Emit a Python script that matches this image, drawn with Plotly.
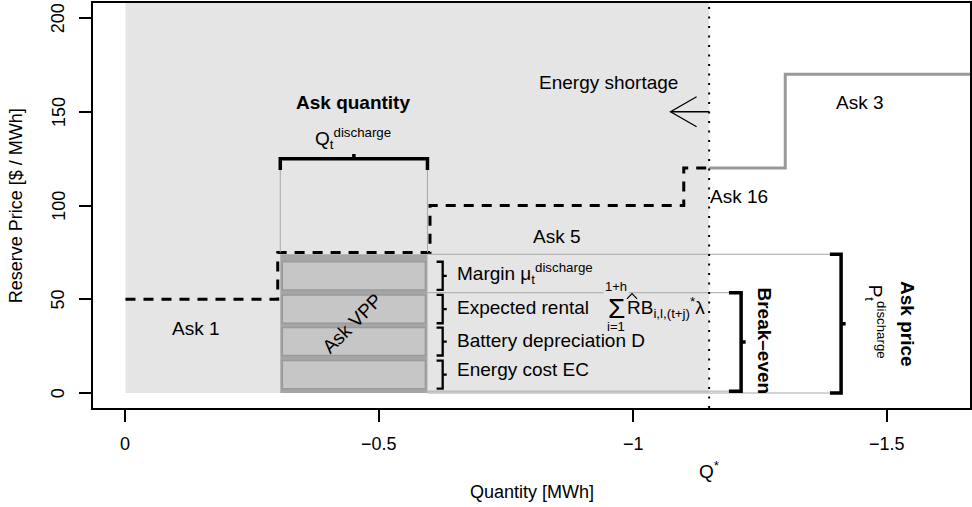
import plotly.graph_objects as go

# ---------------- data ----------------
q_star = -1.15
ask_steps_x = [0, -0.3, -0.6, -1.1, -1.15]
ask_steps_y = [50, 75, 100, 120, 120]
market_x = [-1.15, -1.3, -1.7]
market_y = [120, 170, 170]
vpp_q = [-0.305, -0.595]
vpp_price = 74
cost_labels = ["Energy cost EC", "Battery depreciation D", "Expected rental",
               "Margin μ<sub>t</sub><sup>discharge</sup>"]
cost_low = [2.3, 20, 37.2, 55]
cost_high = [17.3, 34.9, 52.3, 70]
cost_label_y = [12.4, 27.8, 45.5, 63.8]
break_even = [1, 53.5]
ask_price = [0, 74]
ask_labels = ["Ask 1", "Ask 5", "Ask 16", "Ask 3"]
ask_label_x = [-0.139, -0.85, -1.209, -1.448]
ask_label_y = [34.2, 83.7, 104.6, 154.8]
xticks = [0, -0.5, -1, -1.5]
xtick_text = ["0", "−0.5", "−1", "−1.5"]
yticks = [0, 50, 100, 150, 200]
ytick_text = ["0", "50", "100", "150", "200"]
x_range = [0.064, -1.664]
y_range = [-8, 208]

FONT = "Liberation Sans, Arial, Helvetica, sans-serif"
FS = 19

fig = go.Figure()

shapes = []
# shaded feasible region
shapes.append(dict(type="rect", xref="x", yref="y", x0=0, x1=q_star, y0=0, y1=y_range[1],
                   fillcolor="#E5E5E5", line=dict(width=0), layer="below"))
# VPP bar base
shapes.append(dict(type="rect", xref="x", yref="y", x0=vpp_q[0], x1=vpp_q[1], y0=0, y1=vpp_price,
                   fillcolor="#A6A6A6", line=dict(width=0), layer="below"))
for lo, hi in zip(cost_low, cost_high):
    shapes.append(dict(type="rect", xref="x", yref="y", x0=vpp_q[0] - 0.004, x1=vpp_q[1] + 0.004,
                       y0=lo, y1=hi, fillcolor="#C6C6C6",
                       line=dict(color="#9A9A9A", width=1.5), layer="below"))

# thin guide lines
guide = dict(color="#A8A8A8", width=1)
shapes.append(dict(type="line", xref="x", yref="y", x0=vpp_q[1], x1=-1.388, y0=ask_price[1], y1=ask_price[1], line=guide))
shapes.append(dict(type="line", xref="x", yref="y", x0=vpp_q[1], x1=-1.388, y0=ask_price[0], y1=ask_price[0], line=guide))
shapes.append(dict(type="line", xref="x", yref="y", x0=vpp_q[1], x1=-1.189, y0=break_even[1], y1=break_even[1], line=guide))
shapes.append(dict(type="line", xref="x", yref="y", x0=vpp_q[1], x1=-1.189, y0=break_even[0], y1=break_even[0], line=guide))
for xv in vpp_q:
    shapes.append(dict(type="line", xref="x", yref="y", x0=xv, x1=xv, y0=75, y1=119, line=guide))


def vbracket(x, y0, y1, tick, nub, width):
    ym = (y0 + y1) / 2
    path = (f"M {x + tick},{y0} L {x},{y0} L {x},{y1} L {x + tick},{y1} "
            f"M {x},{ym} L {x - nub},{ym}")
    return dict(type="path", xref="x", yref="y", path=path,
                line=dict(color="black", width=width), layer="above")


# small brackets on cost components
for lo, hi in zip(cost_low, cost_high):
    shapes.append(vbracket(-0.625, lo, hi, 0.012, 0.008, 2.3))
# break-even and ask price brackets
shapes.append(vbracket(-1.213, break_even[0], break_even[1], 0.024, 0.009, 3.5))
shapes.append(vbracket(-1.41, ask_price[0], ask_price[1], 0.022, 0.009, 3.5))

# ask quantity bracket (horizontal)
xm = (vpp_q[0] + vpp_q[1]) / 2
shapes.append(dict(type="path", xref="x", yref="y",
                   path=(f"M {vpp_q[0]},119 L {vpp_q[0]},125 L {vpp_q[1]},125 L {vpp_q[1]},119 "
                         f"M {xm},125 L {xm},127.5"),
                   line=dict(color="black", width=3.5), layer="above"))

# Q* dotted line
shapes.append(dict(type="line", xref="x", yref="paper", x0=q_star, x1=q_star, y0=0, y1=1,
                   line=dict(color="black", width=2, dash="2px,7.5px"), layer="above"))

# energy shortage arrow
tip_x = -1.074
shapes.append(dict(type="line", xref="x", yref="y", x0=q_star, x1=tip_x, y0=150, y1=150,
                   line=dict(color="black", width=1.3)))
shapes.append(dict(type="path", xref="x", yref="y",
                   path=f"M {tip_x - 0.0513},158 L {tip_x},150 L {tip_x - 0.0513},142",
                   line=dict(color="black", width=1.3)))

# hat over R
shapes.append(dict(type="path", xref="x", yref="y",
                   path="M -0.988,50.2 L -0.998,53 L -1.008,50.2",
                   line=dict(color="black", width=1.2)))

# step curves
fig.add_trace(go.Scatter(x=ask_steps_x, y=ask_steps_y, mode="lines", line_shape="hv",
                         line=dict(color="black", width=3, dash="10px,8px"),
                         hoverinfo="skip", showlegend=False))
fig.add_trace(go.Scatter(x=market_x, y=market_y, mode="lines", line_shape="hv",
                         line=dict(color="#999999", width=3),
                         hoverinfo="skip", showlegend=False))

ann = []


def txt(x, y, text, size=FS, xanchor="center", yanchor="middle", angle=0, bold=False,
        xref="x", yref="y", **kw):
    if bold:
        text = f"<b>{text}</b>"
    d = dict(x=x, y=y, xref=xref, yref=yref, text=text, showarrow=False,
             font=dict(family=FONT, size=size, color="black"),
             xanchor=xanchor, yanchor=yanchor, textangle=angle)
    d.update(kw)
    ann.append(d)


for lab, lx, ly in zip(ask_labels, ask_label_x, ask_label_y):
    txt(lx, ly, lab)
txt(-0.951, 165.7, "Energy shortage")
txt(-0.449, 155, "Ask quantity", bold=True)
txt(-0.449, 136, "Q<sub>t</sub><sup>discharge</sup>")
txt(-0.447, 36.9, "Ask VPP", angle=-45)
for lab, ly in zip(cost_labels, cost_label_y):
    txt(-0.649, ly, lab, xanchor="left")
# sum
txt(-0.967, 45, "Σ", size=28)
txt(-0.966, 57, "1+h", size=13, bgcolor="#E5E5E5")
txt(-0.966, 35.5, "i=1", size=13)
txt(-0.984, 45.5, "RB<sub>i,l,(t+j)</sub><sup>*</sup>λ", xanchor="left")
# right side rotated labels
txt(-1.26, 27.5, "Break–even", bold=True, angle=90)
txt(-1.541, 37, "Ask price", bold=True, angle=90)
txt(-1.477, 38, "P<sub>t</sub><sup>discharge</sup>", angle=90)
# Q* below axis
txt(q_star, -0.153, "Q<sup>*</sup>", yref="paper")
# tick labels
for tv, tt in zip(xticks, xtick_text):
    txt(tv, -0.088, tt, yref="paper", size=18)
for tv, tt in zip(yticks, ytick_text):
    txt(-0.0396, tv, tt, xref="paper", size=18, angle=-90)
# axis titles
txt(0.5, -0.207, "Quantity [MWh]", xref="paper", yref="paper", size=18)
txt(-0.088, 0.5, "Reserve Price [$ / MWh]", xref="paper", yref="paper", size=18, angle=-90)

fig.update_layout(
    width=972, height=507,
    margin=dict(l=93, r=2, t=3, b=99),
    paper_bgcolor="white", plot_bgcolor="white",
    font=dict(family=FONT, size=18, color="black"),
    shapes=shapes, annotations=ann, showlegend=False,
)
fig.update_xaxes(range=x_range, tickvals=xticks, showticklabels=False, showgrid=False, zeroline=False,
                 showline=True, mirror=True, linecolor="black", linewidth=1.5,
                 ticks="outside", ticklen=12, tickwidth=1.5, tickcolor="black", automargin=False)
fig.update_yaxes(range=y_range, tickvals=yticks, showticklabels=False, showgrid=False, zeroline=False,
                 showline=True, mirror=True, linecolor="black", linewidth=1.5,
                 ticks="outside", ticklen=12, tickwidth=1.5, tickcolor="black", automargin=False)

fig.write_html("out.html", config={"displayModeBar": False},
               post_script="document.body.style.margin='0';")
